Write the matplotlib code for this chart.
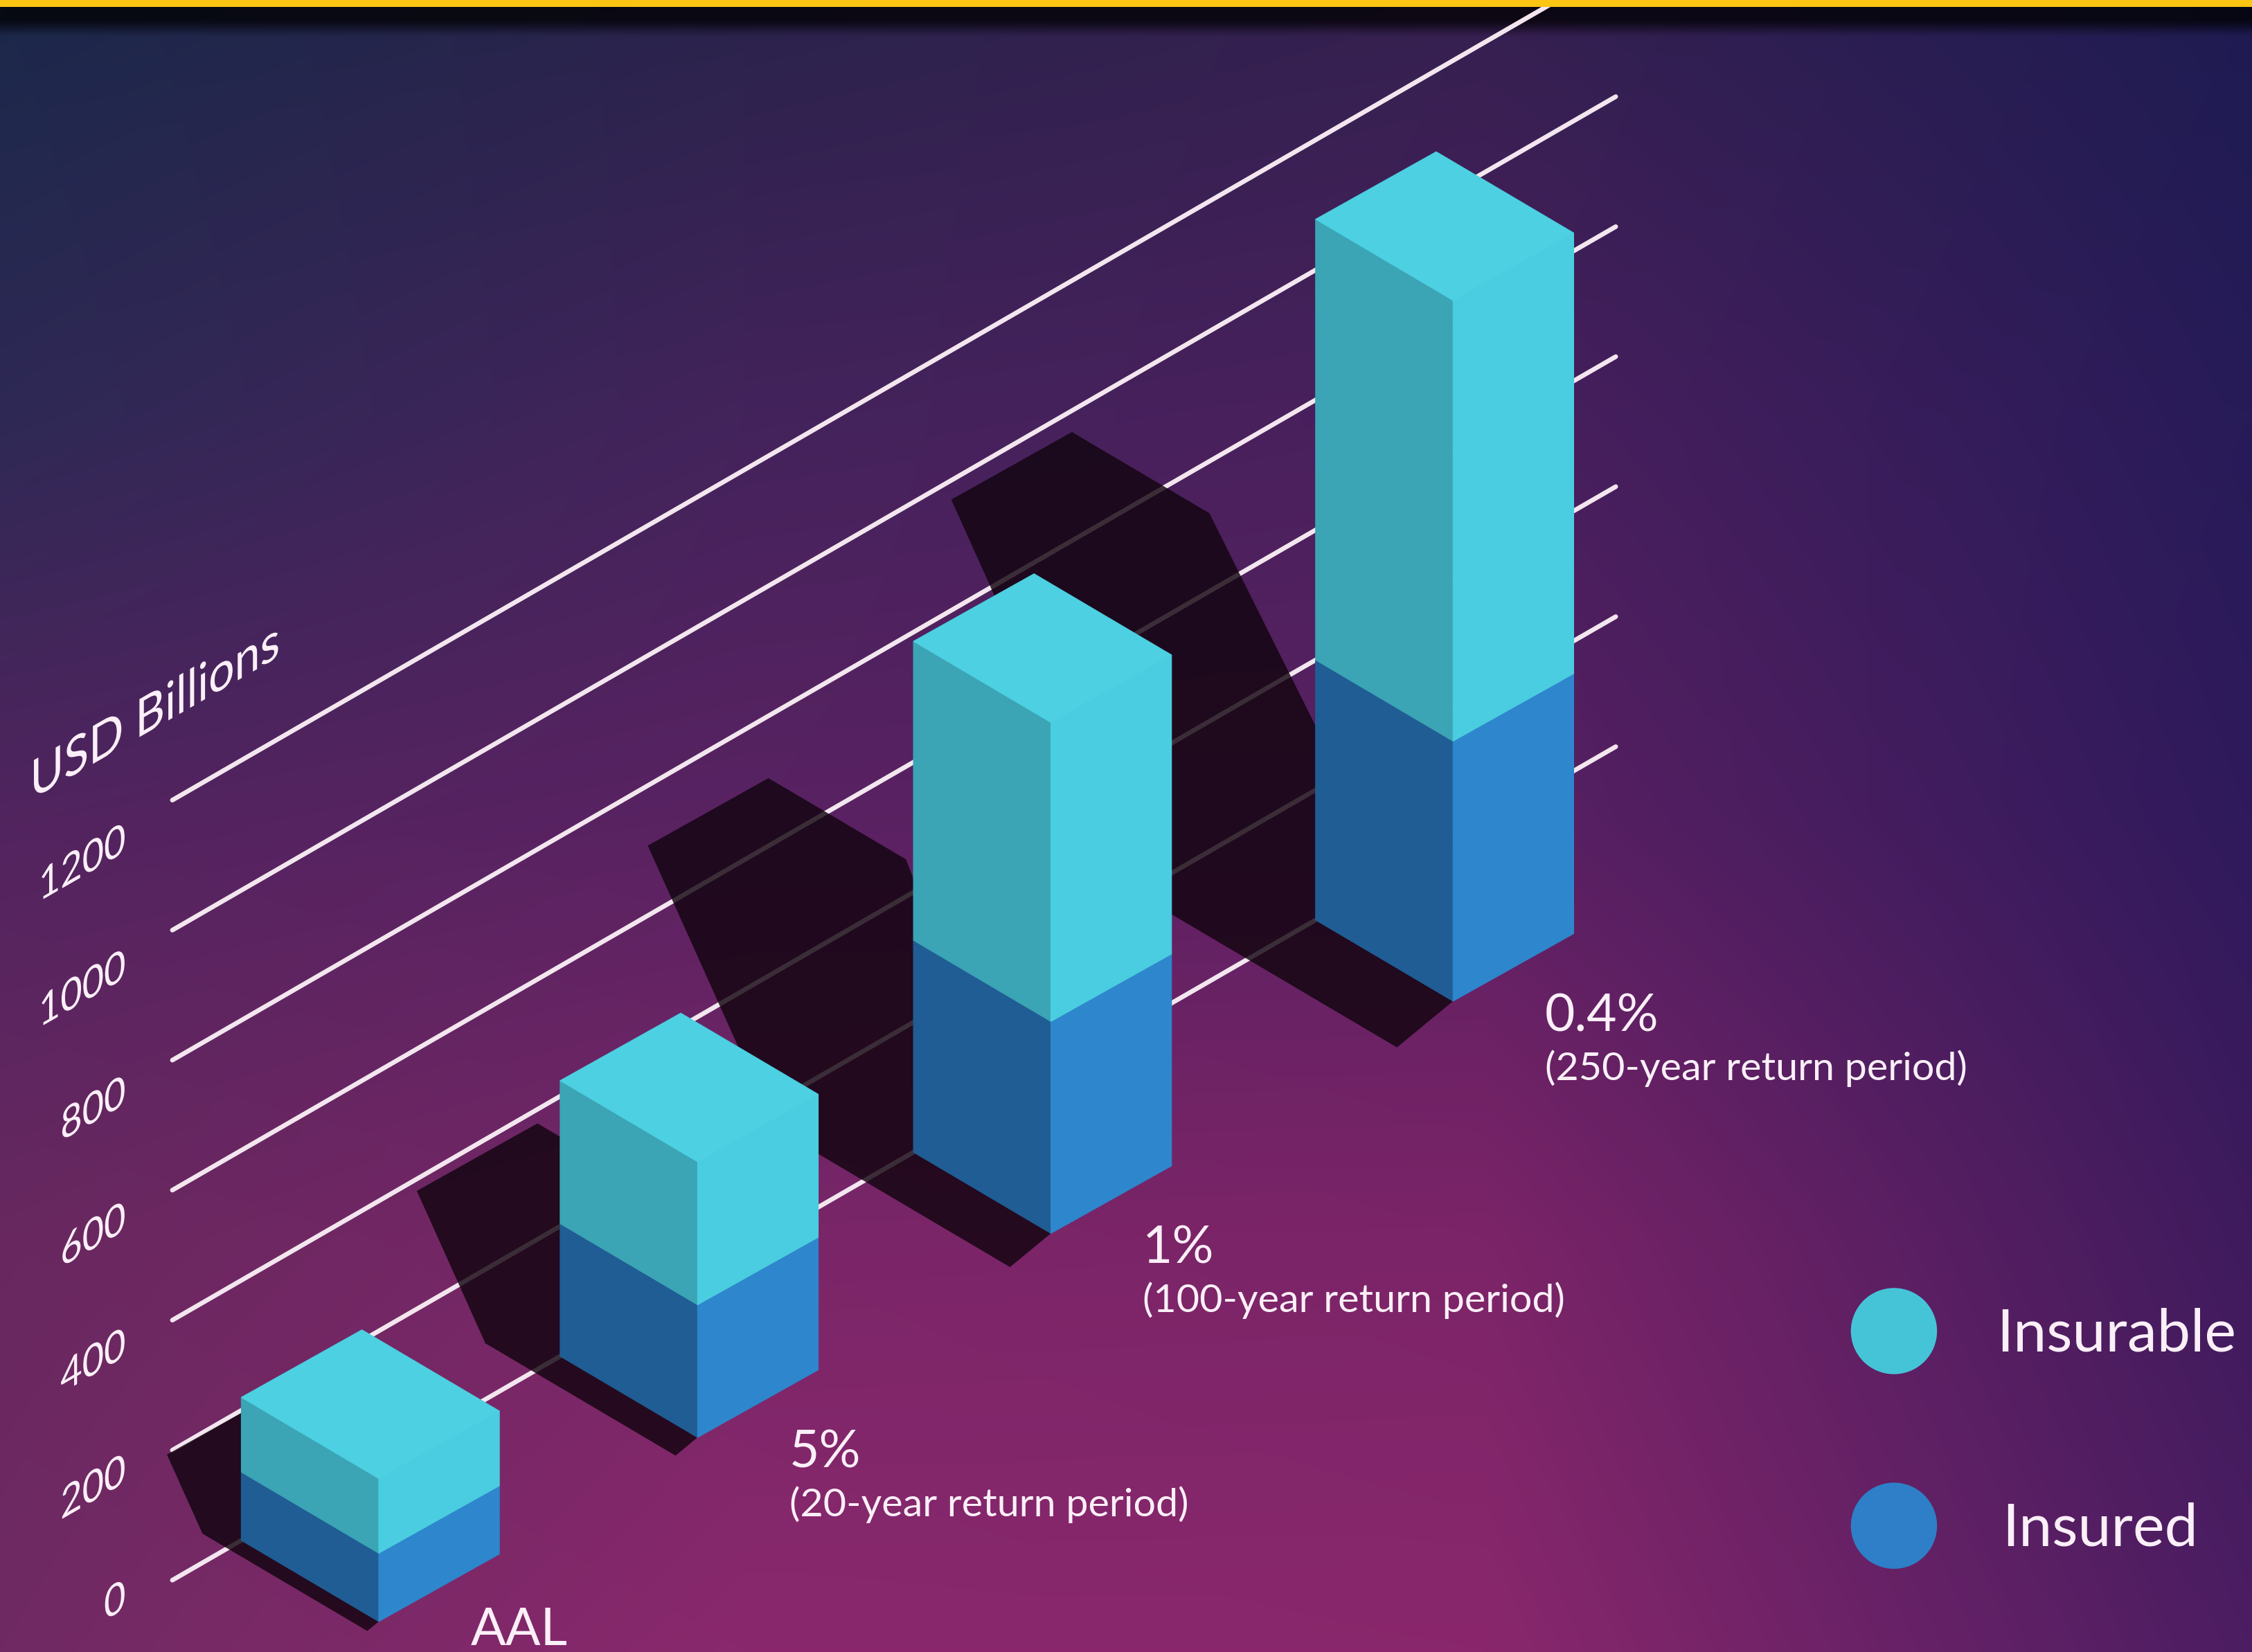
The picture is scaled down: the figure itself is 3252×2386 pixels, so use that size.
import numpy as np
import matplotlib
matplotlib.use("Agg")
import matplotlib.pyplot as plt
from matplotlib.patches import Polygon, Circle, PathPatch, Rectangle
from matplotlib.path import Path
from matplotlib.patheffects import AbstractPathEffect
from matplotlib.transforms import Affine2D

plt.rcParams['font.family'] = ['Lato', 'DejaVu Sans']

# -- data (USD billions) --
categories = ["AAL", "5%", "1%", "0.4%"]
subtitles = ["", "(20-year return period)", "(100-year return period)", "(250-year return period)"]
insurable = [220, 424, 786, 1078]
insured = [105, 204, 326, 400]
ticks = [0, 200, 400, 600, 800, 1000, 1200]
series_names = ["Insurable", "Insured"]
axis_title = "USD Billions"

# -- layout: canvas in 1568 x 1150 units, isometric wall --
W, H = 1568, 1150
X0, Y0, X1 = 120, 1100, 1125          # zero gridline start / gridline end
SLOPE = np.tan(np.deg2rad(30))
PX = 0.4525                            # canvas units per USD bn
LABEL_PX = 0.439                       # tick labels sit on a slightly tighter spacing
bar_x = [168, 390, 636, 916]           # back-left corner of each bar on the wall
V = np.array([95.7, 56.5])             # depth edge (left face)
U = np.array([84.0, -47.0])            # width edge (front face)
K_SHADOW = np.array([-0.52, 0.40])
F_SHADOW = np.array([-0.08, 0.066])

TXT = '#FBEFF8'
LINE = '#F3E6EF'
C_TOP = '#4CD0E2'
C_INS_FRONT, C_INS_LEFT = '#4ACDE0', '#3BA4B5'
C_SUR_FRONT, C_SUR_LEFT = '#2E86CD', '#1F5D94'
C_LEG = ['#46C4D7', '#2E7FC7']


def wall_y(x, value):
    return Y0 - SLOPE * (x - X0) - value * PX


class WallShear(AbstractPathEffect):
    """Shear glyphs onto the wall: baseline at 30 deg, uprights stay vertical."""
    def __init__(self, ax, pivot, angle=30):
        super().__init__()
        self.ax = ax
        self.pivot = pivot
        a = np.deg2rad(angle)
        self.shear = Affine2D.from_values(np.cos(a), np.sin(a), 0, 1, 0, 0)

    def draw_path(self, renderer, gc, tpath, affine, rgbFace=None):
        px, py = self.ax.transData.transform(self.pivot)
        t = affine + Affine2D().translate(-px, -py) + self.shear + Affine2D().translate(px, py)
        renderer.draw_path(gc, tpath, t, rgbFace)


fig = plt.figure(figsize=(16.26, 11.93), dpi=200)
ax = fig.add_axes([0, 0, 1, 1])
ax.set_xlim(0, W)
ax.set_ylim(H, 0)
ax.axis('off')

# -- background gradient --
bg_rows = [0.0, 0.25, 0.5, 0.75, 1.0]
bg_cols = [0.0, 0.33, 0.66, 1.0]
bg_hex = [
    ['#1B284A', '#2A234C', '#352050', '#1E1C52'],
    ['#2E2955', '#43235B', '#4A1F5D', '#271B58'],
    ['#52245F', '#5A2262', '#5C2062', '#2F1A5C'],
    ['#68285F', '#7A2668', '#7C2468', '#3E1B5D'],
    ['#702A63', '#8A286D', '#8A276C', '#4C1D62'],
]
anchor = np.array([[matplotlib.colors.to_rgb(c) for c in row] for row in bg_hex])
ny, nx = 460, 628
ys = np.linspace(0, 1, ny)
xs = np.linspace(0, 1, nx)
img = np.zeros((ny, nx, 3))
for c in range(3):
    rows = np.array([np.interp(xs, bg_cols, anchor[r, :, c]) for r in range(len(bg_rows))])
    for j in range(nx):
        img[:, j, c] = np.interp(ys, bg_rows, rows[:, j])
ypix = ys * H
img *= np.clip((ypix - 10) / 14, 0.25, 1)[:, None, None]
ax.imshow(img, extent=(0, W, H, 0), aspect='auto', interpolation='bilinear', zorder=0)
ax.add_patch(Rectangle((0, 0), W, 4.8, color='#FDC513', lw=0, zorder=10))

# -- gridlines on the wall --
for v in ticks:
    xx = np.array([X0, X1])
    ax.plot(xx, wall_y(xx, v), color=LINE, lw=2.4, solid_capstyle='round', zorder=1)
    p = (87.5, Y0 + 19.6 - v * LABEL_PX)
    ax.text(*p, str(v), ha='right', va='baseline', fontsize=22.5, color=TXT,
            path_effects=[WallShear(ax, p)], zorder=5)

p = (21, 557)
ax.text(*p, axis_title, ha='left', va='baseline', fontsize=27.5, color=TXT,
        path_effects=[WallShear(ax, p)], zorder=5)

# -- bars --
def corners(i, value):
    L = np.array([bar_x[i], wall_y(bar_x[i], 0)]) + np.array([0, -value * PX])
    return L, L + V, L + V + U, L + U

shadow_paths = []
for i in range(len(categories)):
    Lb, Fb, Rb, Bb = corners(i, 0)
    Lt, Ft, Rt, Bt = corners(i, insurable[i])
    hpx = insurable[i] * PX
    pts = np.array([Lt + K_SHADOW * hpx, Bt + K_SHADOW * hpx, Rt + K_SHADOW * hpx,
                    Fb, Fb + F_SHADOW * hpx, Lb + F_SHADOW * hpx - 0.002 * hpx * V])
    area = 0.5 * np.sum(pts[:, 0] * np.roll(pts[:, 1], -1) - np.roll(pts[:, 0], -1) * pts[:, 1])
    if area < 0:
        pts = pts[::-1]
    shadow_paths.append(Path(np.vstack([pts, pts[:1]]), closed=True))
ax.add_patch(PathPatch(Path.make_compound_path(*shadow_paths), facecolor='#12040F',
                       edgecolor='none', alpha=0.82, zorder=2))

for i in range(len(categories)):
    Lb, Fb, Rb, Bb = corners(i, 0)
    Lm, Fm, Rm, Bm = corners(i, insured[i])
    Lt, Ft, Rt, Bt = corners(i, insurable[i])
    faces = [([Lb, Fb, Fm, Lm], C_SUR_LEFT), ([Fb, Rb, Rm, Fm], C_SUR_FRONT),
             ([Lm, Fm, Ft, Lt], C_INS_LEFT), ([Fm, Rm, Rt, Ft], C_INS_FRONT),
             ([Lt, Ft, Rt, Bt], C_TOP)]
    for verts, col in faces:
        ax.add_patch(Polygon(verts, closed=True, facecolor=col, edgecolor=col,
                             lw=0.4, zorder=3))
    lx, ly = Fb[0] + 64, min(Fb[1] + 21, H - 5)
    ax.text(lx, ly, categories[i], ha='left', va='baseline', fontsize=27, color=TXT, zorder=5)
    if subtitles[i]:
        ax.text(lx, ly + 34, subtitles[i], ha='left', va='baseline', fontsize=20.7,
                color=TXT, zorder=5)

# -- legend --
for j, name in enumerate(series_names):
    cy = 926.6 + j * 135.5
    ax.add_patch(Circle((1318.7, cy), 30, facecolor=C_LEG[j], edgecolor='none', zorder=5))
    ax.text(1390 + 4 * j, cy + 14, name, ha='left', va='baseline', fontsize=31,
            color=TXT, zorder=5)

fig.savefig("out.png", dpi=200)
